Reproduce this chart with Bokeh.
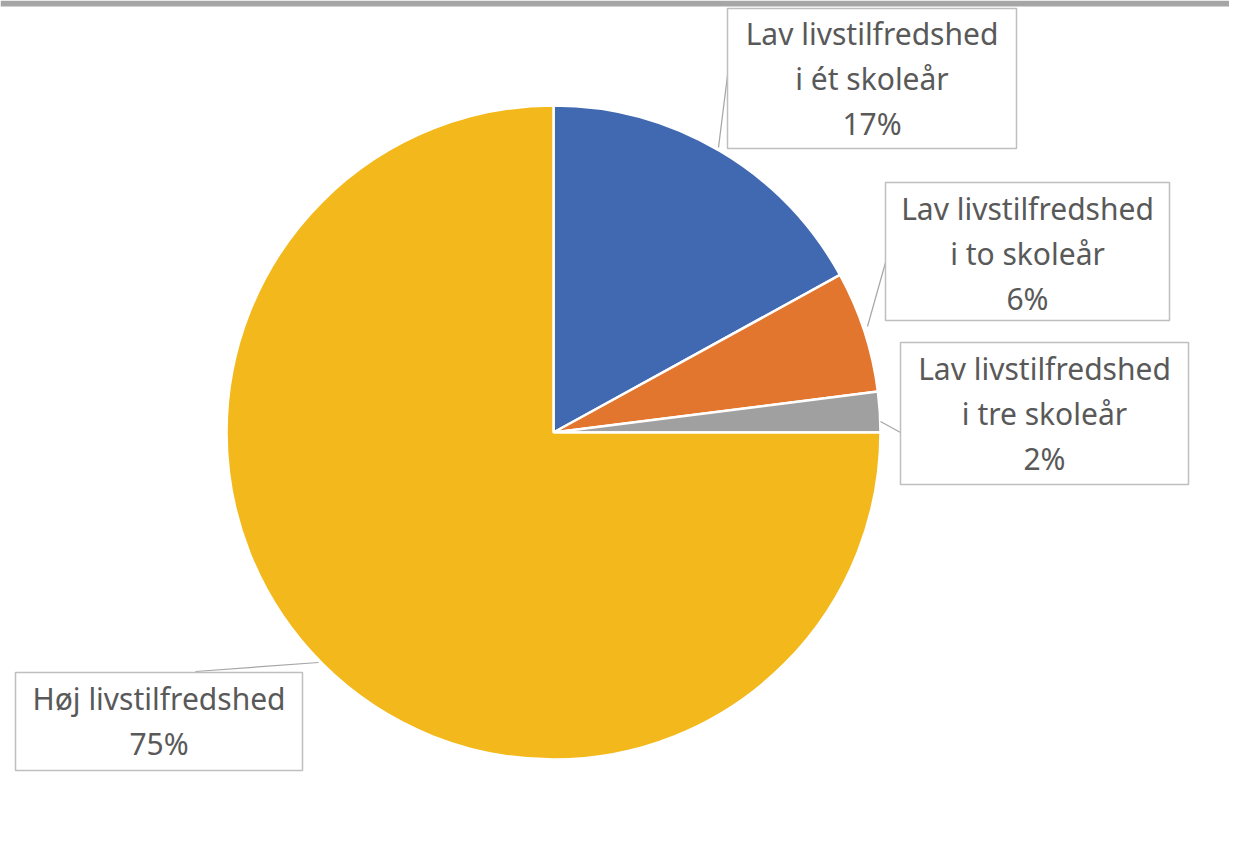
import math
from bokeh.plotting import figure
from bokeh.models import Range1d
from bokeh.core.properties import value
from bokeh.embed import file_html
from bokeh.resources import INLINE

# ---- data ----
categories = ["Lav livstilfredshed\ni ét skoleår",
              "Lav livstilfredshed\ni to skoleår",
              "Lav livstilfredshed\ni tre skoleår",
              "Høj livstilfredshed"]
values = [17, 6, 2, 75]
colors = ["#4069B1", "#E2762F", "#A0A0A0", "#F3B81B"]

# ---- layout (reference-pixel coordinates) ----
W, H = 1229, 840
OFF = 0
def X(px): return px - OFF
def Y(py): return H - (py - OFF)

CX, CY, R = 553, 432, 327
boxes = [(727, 8, 1016, 148), (885, 182, 1169, 320),
         (900, 342, 1188, 484), (15, 672, 302, 770)]
first_line_y = [33, 208, 368, 698]
line_gap = 45
leaders = [[(718, 147), (727, 75)],
           [(867, 326), (885, 262)],
           [(880, 421), (900, 432)],
           [(318, 662), (195, 671)]]

FONT = "Noto Sans"
FS = "30px"
TXT = "#595959"

p = figure(width=W, height=H, x_range=Range1d(0, W), y_range=Range1d(0, H),
           output_backend="svg", toolbar_location=None,
           x_axis_location=None, y_axis_location=None,
           min_border=0, background_fill_color="white",
           border_fill_color="white", outline_line_color=None)
p.grid.visible = False

# top gray bar
p.quad(left=[0], right=[W], bottom=[H - 6], top=[H], fill_color="#A6A6A6", line_color=None)

# pie
total = sum(values)
cum = 0
starts, ends = [], []
for v in values:
    starts.append(math.radians(90 - cum / total * 360))
    cum += v
    ends.append(math.radians(90 - cum / total * 360))
p.wedge(x=[X(CX)] * len(values), y=[Y(CY)] * len(values), radius=R,
        start_angle=starts, end_angle=ends, direction="clock",
        fill_color=colors, line_color="white", line_width=2.5)

# leader lines
p.multi_line(xs=[[X(a[0]), X(b[0])] for a, b in leaders],
             ys=[[Y(a[1]), Y(b[1])] for a, b in leaders],
             line_color="#A6A6A6", line_width=1.2)

# label boxes
p.quad(left=[X(b[0]) for b in boxes], right=[X(b[2]) for b in boxes],
       top=[Y(b[1]) for b in boxes], bottom=[Y(b[3]) for b in boxes],
       fill_color="white", line_color="#BFBFBF", line_width=1.5)

# label texts
tx, ty, tt = [], [], []
for i, (cat, v) in enumerate(zip(categories, values)):
    lines = cat.split("\n") + [f"{v}%"]
    cxb = (boxes[i][0] + boxes[i][2]) / 2
    for k, ln in enumerate(lines):
        tx.append(X(cxb))
        ty.append(Y(first_line_y[i] + k * line_gap))
        tt.append(ln)
p.text(x=tx, y=ty, text=tt, text_align="center", text_baseline="middle",
       text_font=value(FONT), text_font_size=FS, text_color=TXT)

open("out.html", "w").write(file_html(p, INLINE))
